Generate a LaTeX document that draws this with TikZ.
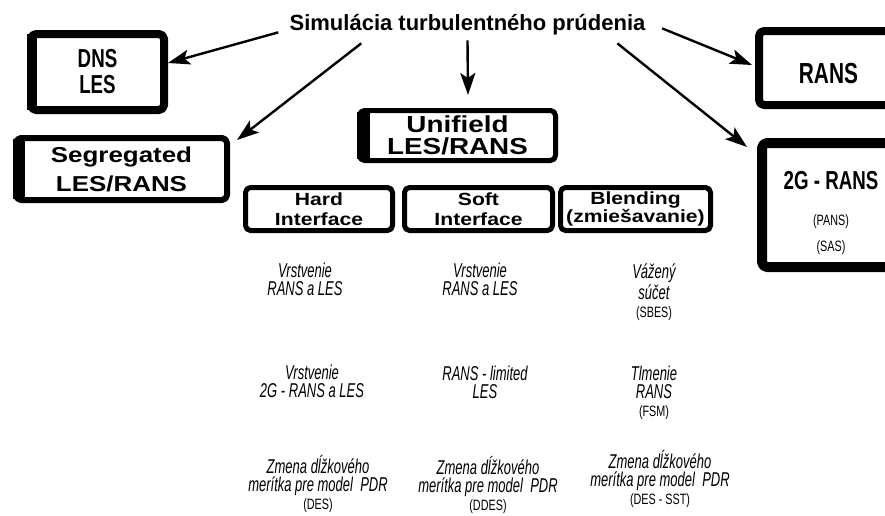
\documentclass[tikz,border=0pt]{standalone}
\usepackage{fontspec}
\setmainfont{Liberation Sans}
\newfontfamily\widesans[FakeStretch=1.2]{Liberation Sans}
\newfontfamily\condsans[FakeStretch=0.72]{Liberation Sans}
\newfontfamily\tallsans[FakeStretch=0.65]{Liberation Sans}
\usetikzlibrary{arrows.meta}
\newcommand\titlefont{\bfseries\fontsize{11}{13}\selectfont}
\newcommand\itnarrow{\tallsans\itshape\fontsize{10}{9}\selectfont}
\newcommand\smallnarrow{\condsans\upshape\fontsize{7.5}{8}\selectfont}
\begin{document}
\begin{tikzpicture}[x=0.5pt,y=-0.5pt,line join=round,>={Stealth[length=11pt,width=7.5pt,inset=2.5pt]}]
	\tikzset{boxframe/.style={draw,line width=#1,rounded corners=2.5pt,align=center,inner sep=0pt},
		arr/.style={->,line width=1.2pt},
		note/.style={align=center,inner sep=0pt,font=\itnarrow}}
	\useasboundingbox (0,0) rectangle (885,515);
	\clip (0,0) rectangle (885,515);
	% title
	\node[anchor=base,inner sep=0pt,font=\titlefont] (title) at (467.5,30) {Simulácia turbulentného prúdenia};
	% boxes
	\node[boxframe=4pt,minimum width=66.5pt,minimum height=38pt,font={\condsans\bfseries\fontsize{13}{13}\selectfont}] (dns) at (97.5,72) {DNS\\LES};
	\node[boxframe=3pt,minimum width=105.5pt,minimum height=31pt,font={\widesans\bfseries\fontsize{10.8}{14.5}\selectfont}] (seg) at (121.5,169) {Segregated\\LES/RANS};
	\node[boxframe=2.5pt,minimum width=98pt,minimum height=25pt,font={\widesans\bfseries\fontsize{11.6}{11}\selectfont}] (uni) at (457.5,135.5) {Unifield\\LES/RANS};
	\node[boxframe=2.5pt,minimum width=73.5pt,minimum height=21.5pt,font={\widesans\bfseries\fontsize{8.8}{9.8}\selectfont}] (hard) at (319,209) {Hard\\Interface};
	\node[boxframe=2.5pt,minimum width=74pt,minimum height=21.5pt,font={\widesans\bfseries\fontsize{8.8}{9.8}\selectfont}] (soft) at (478.5,209) {Soft\\Interface};
	\node[boxframe=2.5pt,minimum width=75pt,minimum height=21.5pt,font={\widesans\bfseries\fontsize{8.8}{9.4}\selectfont}] (blend) at (635.5,209) {Blending\\(zmiešavanie)};
	\node[boxframe=4pt,minimum width=69.5pt,minimum height=37pt,font={\condsans\bfseries\fontsize{14.5}{14}\selectfont}] (rans) at (828.5,68) {\rule{0pt}{16pt}RANS};
	\node[boxframe=5pt,minimum width=69pt,minimum height=62pt,font={\condsans\bfseries\fontsize{13}{13}\selectfont}] (g2) at (831,205) {\rule{0pt}{17.5pt}2G - RANS\\[5pt]{\condsans\mdseries\fontsize{7.5}{9}\selectfont (PANS)}\\{\condsans\mdseries\fontsize{7.5}{9}\selectfont (SAS)}};
	% heavier left sides
	\fill ([yshift=-2pt]dns.north west) rectangle ([xshift=5pt,yshift=2pt]dns.south west);
	\fill ([yshift=-2pt]seg.north west) rectangle ([xshift=6pt,yshift=2pt]seg.south west);
	\fill ([yshift=-2pt]uni.north west) rectangle ([xshift=6.5pt,yshift=2pt]uni.south west);
	% arrows
	\draw[arr] ([xshift=-5.5pt,yshift=1.3pt]title.south west) -- ([yshift=4.5pt]dns.east);
	\draw[arr] ([xshift=36pt,yshift=-4.2pt]title.south west) -- ([xshift=3.5pt,yshift=-2.5pt]seg.north east);
	\draw[arr] ([yshift=-2.7pt]title.south) -- ([xshift=5.25pt,yshift=6.5pt]uni.north);
	\draw[arr] ([xshift=8.2pt,yshift=3.3pt]title.south east) -- ([xshift=-1.5pt,yshift=1.5pt]rans.west);
	\draw[arr] ([xshift=-14.2pt,yshift=-4.2pt]title.south east) -- ([xshift=-5pt,yshift=-4.5pt]g2.north west);
	% notes under the interface boxes
	\node[note,anchor=north] (hard1) at (305,263) {Vrstvenie\\RANS a LES};
	\node[note,anchor=north] (soft1) at (480,263) {Vrstvenie\\RANS a LES};
	\node[note,anchor=north] (blend1) at (654,263) {Vážený\\súčet\\{\smallnarrow (SBES)}};
	\node[note,anchor=north] (hard2) at (312,365) {Vrstvenie\\2G - RANS a LES};
	\node[note,anchor=north] (soft2) at (485,366) {RANS - limited\\LES};
	\node[note,anchor=north] (blend2) at (654,366) {Tlmenie\\RANS\\{\smallnarrow (FSM)}};
	\node[note,anchor=south] (hard3) at (318,513) {Zmena dĺžkového\\merítka pre model~ PDR\\{\smallnarrow (DES)}};
	\node[note,anchor=south] (soft3) at (488,514) {Zmena dĺžkového\\merítka pre model~ PDR\\{\smallnarrow (DDES)}};
	\node[note,anchor=south] (blend3) at (660,508) {Zmena dĺžkového\\merítka pre model~ PDR\\{\smallnarrow (DES - SST)}};
\end{tikzpicture}
\end{document}
